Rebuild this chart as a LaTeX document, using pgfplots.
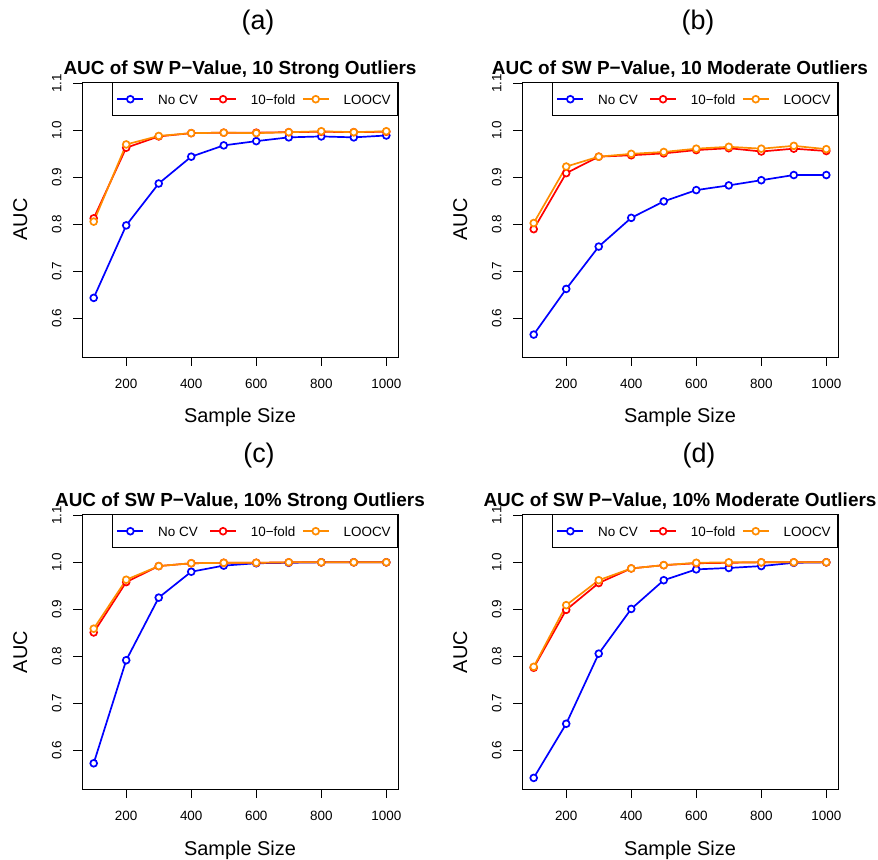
\documentclass[border=0pt]{standalone}
\usepackage{pgfplots}
\pgfplotsset{compat=1.18}
\usepackage{pgfplotstable}
\usepackage{fontspec}
\setmainfont{Liberation Sans}

\definecolor{rblue}{RGB}{0,0,255}
\definecolor{rred}{RGB}{255,0,0}
\definecolor{rorange}{RGB}{255,140,0}

% (a) 10 strong outliers
\pgfplotstableread{
n nocv kfold loocv
100 0.644 0.813 0.806
200 0.798 0.963 0.970
300 0.887 0.987 0.988
400 0.944 0.994 0.994
500 0.968 0.995 0.995
600 0.977 0.995 0.994
700 0.985 0.996 0.996
800 0.987 0.997 0.998
900 0.985 0.996 0.996
1000 0.989 0.997 0.998
}\dataA
% (b) 10 moderate outliers
\pgfplotstableread{
n nocv kfold loocv
100 0.566 0.790 0.803
200 0.663 0.909 0.923
300 0.753 0.944 0.944
400 0.814 0.947 0.950
500 0.849 0.951 0.954
600 0.873 0.958 0.961
700 0.883 0.962 0.965
800 0.894 0.955 0.961
900 0.905 0.961 0.967
1000 0.905 0.956 0.960
}\dataB
% (c) 10% strong outliers
\pgfplotstableread{
n nocv kfold loocv
100 0.573 0.851 0.859
200 0.792 0.958 0.963
300 0.925 0.992 0.992
400 0.980 0.998 0.998
500 0.993 0.999 0.999
600 0.998 0.999 0.999
700 0.999 1.000 1.000
800 1.000 1.000 1.000
900 1.000 1.000 1.000
1000 1.000 1.000 1.000
}\dataC
% (d) 10% moderate outliers
\pgfplotstableread{
n nocv kfold loocv
100 0.542 0.776 0.778
200 0.657 0.899 0.909
300 0.806 0.956 0.962
400 0.901 0.987 0.987
500 0.962 0.994 0.994
600 0.985 0.998 0.999
700 0.988 0.999 1.000
800 0.992 1.000 1.000
900 0.999 1.000 1.000
1000 1.000 1.000 1.000
}\dataD

\newcommand{\ticksize}{\fontsize{13.5}{16}\selectfont}
\newcommand{\labsize}{\fontsize{20}{24}\selectfont}
\newcommand{\titsize}{\fontsize{19}{22}\selectfont\bfseries}
\newcommand{\tagsize}{\fontsize{27}{32}\selectfont}

\pgfplotsset{
  rpanel/.style={
    scale only axis, width=316bp, height=274.5bp,
    anchor=south west,
    xmin=64, xmax=1036, ymin=0.5184, ymax=1.1016,
    xtick={200,400,600,800,1000},
    ytick={0.6,0.7,0.8,0.9,1.0,1.1},
    xtick pos=bottom, ytick pos=left,
    tick align=outside, major tick length=9bp,
    every tick/.append style={black, line width=0.8bp},
    axis line style={line width=0.8bp},
    /pgf/number format/assume math mode=true,
    tick label style={font=\ticksize},
    xticklabel shift=10bp, yticklabel shift=8bp,
    xticklabel style={/pgf/number format/set thousands separator={}},
    yticklabel style={rotate=90, anchor=south,
      /pgf/number format/.cd, fixed, fixed zerofill, precision=1},
    legend columns=3,
    legend style={at={(1,1)}, anchor=north east, draw=black,
      line width=0.8bp, inner xsep=4bp, inner ysep=10bp, font=\ticksize,
      nodes={inner sep=0pt},
      /tikz/every odd column/.append style={column sep=14bp}},
    legend image code/.code={\draw[mark repeat=2,mark phase=2,#1]
      plot coordinates {(0bp,0bp) (13bp,0bp) (26bp,0bp)};},
    every axis plot/.append style={line width=1.7bp, mark=*,
      mark size=3.4bp, mark options={fill=white, solid}},
  },
}

\newcommand{\panel}[3]{%
  \begin{axis}[rpanel, at={(#1bp,#2bp)}]
    \addplot[rblue] table[x=n, y=nocv] {#3};
    \addplot[rred] table[x=n, y=kfold] {#3};
    \addplot[rorange] table[x=n, y=loocv] {#3};
    \legend{\makebox[51bp][l]{No CV\strut},
            \makebox[51bp][l]{10−fold\strut},
            \makebox[50bp][l]{LOOCV\strut}}
  \end{axis}}

\begin{document}
\begin{tikzpicture}
\path[use as bounding box] (0bp,0bp) rectangle (878bp,860bp);

\panel{82}{503}{\dataA}
\panel{522}{503}{\dataB}
\panel{82}{71}{\dataC}
\panel{522}{71}{\dataD}

% panel tags
\node[font=\tagsize] at (258bp,837bp) {(a)};
\node[font=\tagsize] at (698bp,837bp) {(b)};
\node[font=\tagsize] at (259bp,404bp) {(c)};
\node[font=\tagsize] at (699bp,404bp) {(d)};

% titles
\node[font=\titsize, anchor=base] at (240bp,785bp) {AUC of SW P−Value, 10 Strong Outliers};
\node[font=\titsize, anchor=base] at (680bp,785bp) {AUC of SW P−Value, 10 Moderate Outliers};
\node[font=\titsize, anchor=base] at (240bp,353bp) {AUC of SW P−Value, 10\% Strong Outliers};
\node[font=\titsize, anchor=base] at (680bp,353bp) {AUC of SW P−Value, 10\% Moderate Outliers};

% axis labels
\foreach \cx in {240,680} {
  \node[font=\labsize, anchor=base] at (\cx bp,437bp) {Sample Size};
  \node[font=\labsize, anchor=base] at (\cx bp,5bp) {Sample Size};
}
\foreach \lx in {27,467} {
  \node[font=\labsize, anchor=base, rotate=90] at (\lx bp,640.5bp) {AUC};
  \node[font=\labsize, anchor=base, rotate=90] at (\lx bp,208bp) {AUC};
}
\end{tikzpicture}
\end{document}
